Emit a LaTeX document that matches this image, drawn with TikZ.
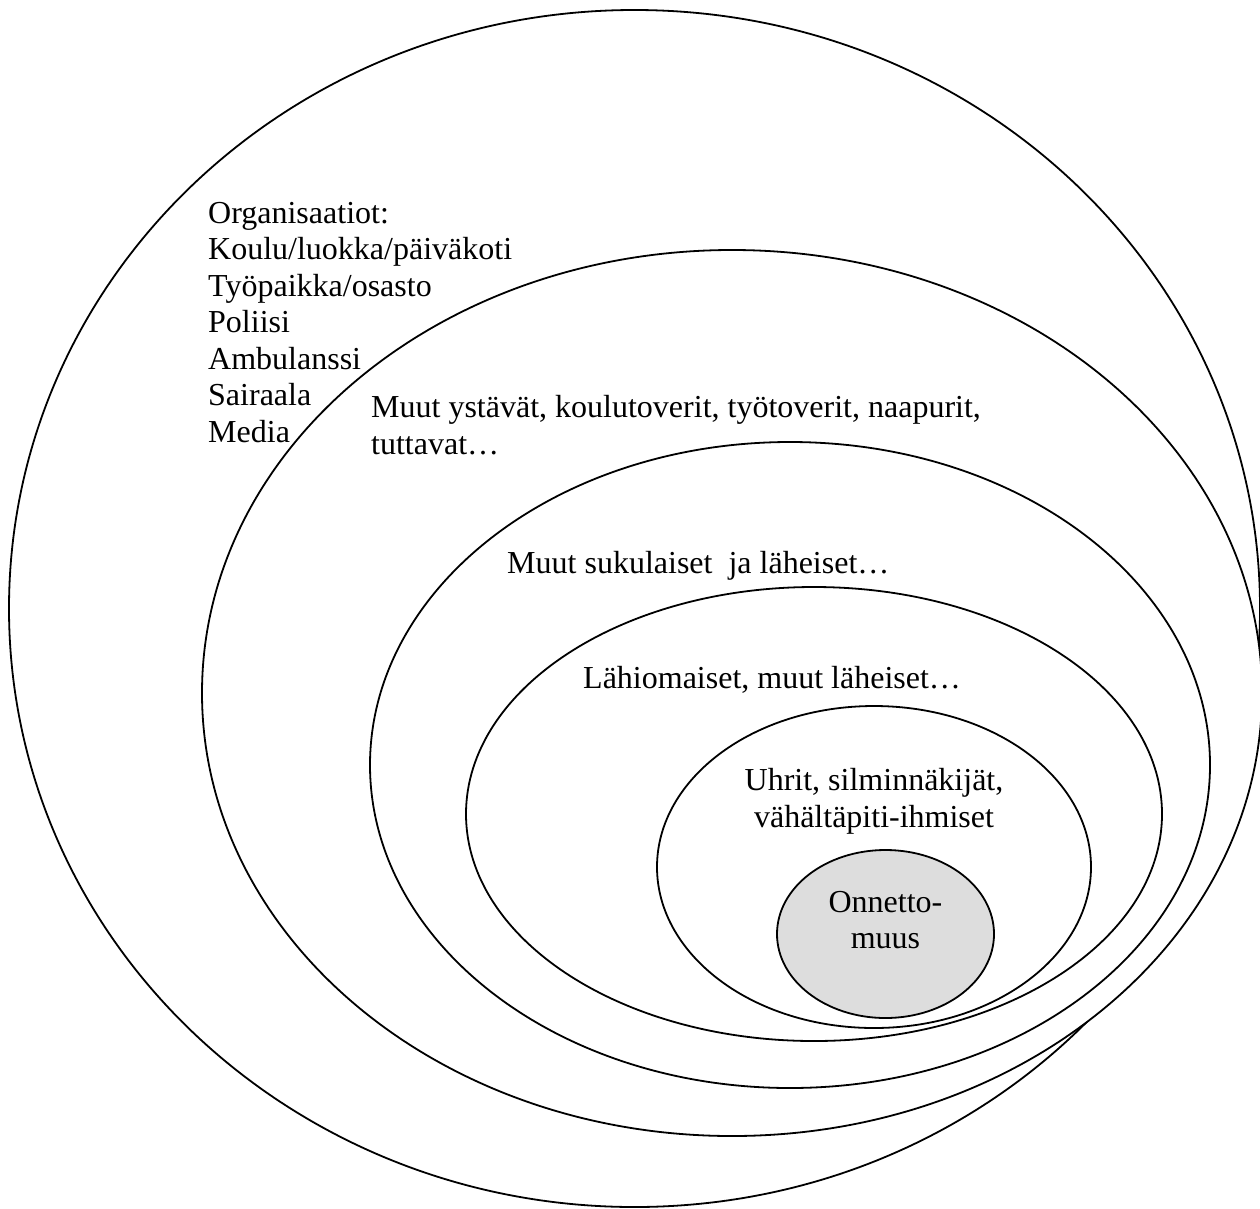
\documentclass[tikz,border=0pt]{standalone}
\usepackage{fontspec}
\setmainfont{Liberation Serif}
\definecolor{coregray}{RGB}{221,221,221}
\tikzset{
  ring/.style={draw=black, line width=1.8pt, fill=white},
  core/.style={draw=black, line width=1.8pt, fill=coregray},
  lbl/.style={inner sep=0pt, font=\fontsize{32}{36}\selectfont},
  lblw/.style={lbl, anchor=base west},
  lblc/.style={lbl, anchor=base}
}
\begin{document}
\begin{tikzpicture}[x=1pt,y=-1pt]
\useasboundingbox (0,0) rectangle (1260,1208);
% rings, outer to inner
\draw[ring] (634.5,608.5) ellipse [x radius=625.5, y radius=598.5];
\draw[ring] (732,693) ellipse [x radius=530, y radius=443];
\draw[ring] (790,765) ellipse [x radius=420, y radius=323];
\draw[ring] (814,814) ellipse [x radius=348, y radius=227];
\draw[ring] (874,867) ellipse [x radius=217, y radius=161];
\draw[core] (885.5,934) ellipse [x radius=108.5, y radius=84];
% organisations
\node[lblw] (org1) at (208,223) {Organisaatiot:};
\node[lblw] (org2) at (208,259.5) {Koulu/luokka/päiväkoti};
\node[lblw] (org3) at (208,296) {Työpaikka/osasto};
\node[lblw] (org4) at (208,332.5) {Poliisi};
\node[lblw] (org5) at (208,369) {Ambulanssi};
\node[lblw] (org6) at (208,405.5) {Sairaala};
\node[lblw] (org7) at (208,442) {Media};
% friends
\node[lblw] (fr1) at (371,417) {Muut ystävät, koulutoverit, työtoverit, naapurit,};
\node[lblw] (fr2) at (371,454) {tuttavat…};
% relatives
\node[lblw] (rel) at (507,573) {Muut sukulaiset\ \ ja läheiset…};
% close family
\node[lblw] (fam) at (583,688) {Lähiomaiset, muut läheiset…};
% victims
\node[lblc] (vic1) at (874,790) {Uhrit, silminnäkijät,};
\node[lblc] (vic2) at (874,827) {vähältäpiti-ihmiset};
% accident
\node[lblc] (acc1) at (885.5,912) {Onnetto-};
\node[lblc] (acc2) at (885.5,948) {muus};
\end{tikzpicture}
\end{document}
